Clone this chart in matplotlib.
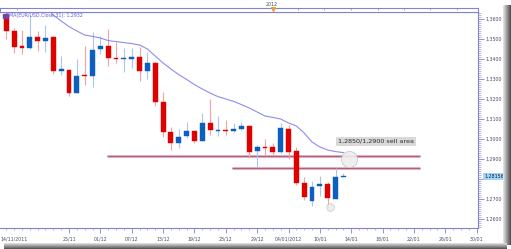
import matplotlib.pyplot as plt
import matplotlib.transforms as mtransforms
from matplotlib.patches import Rectangle
from matplotlib.ticker import MultipleLocator

W, H = 511, 249

# daily EUR/USD candles, index 0 = 14/11/2011
bar_index = list(range(1, 45))
opens = [1.3620, 1.3542, 1.3464, 1.3455, 1.3512, 1.3490, 1.3508, 1.3340, 1.3345, 1.3232,
         1.3320, 1.3315, 1.3448, 1.3465, 1.3407, 1.3400, 1.3402, 1.3412, 1.3342, 1.3382,
         1.3187, 1.3033, 1.2978, 1.3015, 1.3038, 1.2992, 1.3082, 1.3042, 1.3046, 1.3040,
         1.3050, 1.3067, 1.2938, 1.2962, 1.2962, 1.2935, 1.3052, 1.2940, 1.2782, 1.2690,
         1.2766, 1.2774, 1.2700, 1.2812]
highs = [1.3650, 1.3555, 1.3544, 1.3620, 1.3542, 1.3572, 1.3513, 1.3414, 1.3350, 1.3400,
         1.3464, 1.3534, 1.3513, 1.3552, 1.3487, 1.3457, 1.3453, 1.3462, 1.3434, 1.3385,
         1.3237, 1.3062, 1.3048, 1.3085, 1.3042, 1.3132, 1.3199, 1.3117, 1.3095, 1.3082,
         1.3083, 1.3070, 1.2970, 1.3000, 1.2982, 1.3082, 1.3072, 1.2958, 1.2812, 1.2790,
         1.2815, 1.2783, 1.2857, 1.2830]
lows = [1.3500, 1.3430, 1.3427, 1.3450, 1.3442, 1.3434, 1.3325, 1.3322, 1.3214, 1.3230,
        1.3268, 1.3260, 1.3425, 1.3367, 1.3378, 1.3337, 1.3353, 1.3290, 1.3300, 1.3165,
        1.3008, 1.2945, 1.2957, 1.3003, 1.2982, 1.2990, 1.3018, 1.3017, 1.3018, 1.3034,
        1.3047, 1.2912, 1.2862, 1.2920, 1.2920, 1.2932, 1.2900, 1.2770, 1.2695, 1.2667,
        1.2717, 1.2653, 1.2700, 1.2808]
closes = [1.3538, 1.3462, 1.3456, 1.3512, 1.3489, 1.3505, 1.3342, 1.3349, 1.3232, 1.3317,
          1.3313, 1.3447, 1.3463, 1.3405, 1.3400, 1.3404, 1.3412, 1.3342, 1.3382, 1.3187,
          1.3035, 1.2978, 1.3012, 1.3038, 1.2990, 1.3082, 1.3043, 1.3047, 1.3042, 1.3052,
          1.3067, 1.2937, 1.2960, 1.2957, 1.2935, 1.3053, 1.2937, 1.2782, 1.2712, 1.2762,
          1.2775, 1.2703, 1.2808, 1.28156]

# SMA(31)
sma_index = list(range(5, 45))
sma_values = [1.3700, 1.3660, 1.3620, 1.3590, 1.3562, 1.3540, 1.3520, 1.3513, 1.3505, 1.3492,
              1.3487, 1.3482, 1.3477, 1.3470, 1.3450, 1.3415, 1.3380, 1.3350, 1.3322, 1.3298,
              1.3272, 1.3250, 1.3230, 1.3212, 1.3200, 1.3188, 1.3172, 1.3155, 1.3135, 1.3115,
              1.3108, 1.3100, 1.3080, 1.3065, 1.3030, 1.2985, 1.2960, 1.2945, 1.2937, 1.2932]

date_ticks = [9, 13, 17, 21, 25, 29, 33, 37, 41, 45, 49, 53, 57, 61]
date_labels = ["25/11", "01/12", "07/12", "13/12", "19/12", "23/12", "29/12", "04/01/2012",
               "10/01", "14/01", "18/01", "22/01", "26/01", "30/01"]
first_label = "14/11/2011"

price_ticks = [1.26, 1.27, 1.28, 1.29, 1.30, 1.31, 1.32, 1.33, 1.34, 1.35, 1.36]
last_price = 1.28156
sell_levels = [1.2916, 1.2855]
sell_starts = [13.85, 29.8]
sell_end = 53.8
sell_text = "1,2850/1,2900 sell area"

FRAME = "#8484cc"
LABEL = "#4a4a70"
RED, RED_WICK = "#e00000", "#f3a3a3"
BLUE, BLUE_WICK = "#0b5fc0", "#a9c6ee"


def fx(px):
    return px / W


def fy(py):
    return 1 - py / H


def price_label(v):
    return f"{v:.4f}".replace(".", ",")


fig = plt.figure(figsize=(W / 100, H / 100), dpi=100)
fig.patch.set_facecolor("white")

ax = fig.add_axes([0, fy(228), fx(478), (228 - 12) / H])
ax.set_xlim(0.2, 61.17)
ax.set_ylim(1.2555, 1.3635)

for i, o, h, l, c in zip(bar_index, opens, highs, lows, closes):
    up = c >= o
    ax.vlines(i, l, h, color=BLUE_WICK if up else RED_WICK, lw=0.8, zorder=2)
    ax.bar(i, max(abs(c - o), 0.0003), bottom=min(o, c), width=0.62,
           color=BLUE if up else RED, edgecolor=BLUE if up else RED, lw=0.3, zorder=3)

ax.plot(sma_index, sma_values, color="#8c8cf2", lw=0.8, zorder=4)

for level, start in zip(sell_levels, sell_starts):
    ax.hlines(level, start, sell_end, color="#e6bccb", lw=2.2, zorder=1)
    ax.hlines(level, start, sell_end, color="#b0607c", lw=0.9, zorder=1)

ax.text(48.2, 1.29875, sell_text, fontsize=4.6, color="#2a2a2a", ha="center", va="center",
        bbox=dict(boxstyle="square,pad=0.35", fc="#d9d9d9", ec="none"), zorder=6)
ax.scatter([44.72], [1.2900], s=135, facecolor="#eeeeee", edgecolor="#c4c4c4", lw=0.6,
           alpha=0.9, zorder=5)
ax.scatter([42.3], [1.2660], s=30, facecolor="#eeeeee", edgecolor="#c4c4c4", lw=0.5,
           alpha=0.9, zorder=5)

# legend line
ax.add_patch(Rectangle((0.006, 0.972), 0.01, 0.02, transform=ax.transAxes,
                       color="#7a3fa0", zorder=7))
ax.text(0.012, 0.982, "SMA(EUR/USD.Close,31): 1,2932", transform=ax.transAxes,
        fontsize=3.4, color="#5f5fd6", ha="left", va="center", zorder=8)

# axes styling
for side in ["top", "right", "bottom"]:
    ax.spines[side].set_color(FRAME)
    ax.spines[side].set_linewidth(0.8)
ax.spines["left"].set_visible(False)

ax.yaxis.tick_right()
ax.set_yticks(price_ticks)
ax.set_yticklabels([price_label(v) if abs(v - 1.28) > 1e-9 else "" for v in price_ticks])
ax.yaxis.set_minor_locator(MultipleLocator(0.001))
ax.tick_params(axis="y", which="major", length=4, width=0.6, color=FRAME, pad=1.2,
               labelsize=3.4, labelcolor=LABEL)
ax.tick_params(axis="y", which="minor", length=1.8, width=0.4, color=FRAME)

ax.set_xticks(date_ticks)
ax.set_xticklabels(date_labels)
ax.xaxis.set_minor_locator(MultipleLocator(1))
ax.tick_params(axis="x", which="major", length=3.5, width=0.6, color=FRAME, pad=2.5,
               labelsize=3.4, labelcolor=LABEL)
ax.tick_params(axis="x", which="minor", length=1.5, width=0.4, color=FRAME)
ax.text(0.0, -0.040, first_label, transform=ax.transAxes, fontsize=3.4, color=LABEL,
        ha="left", va="top")

trans = mtransforms.blended_transform_factory(ax.transAxes, ax.transData)
ax.text(1.013, last_price - 0.0002, "1,28156", transform=trans, fontsize=3.4,
        color="#1a1a40", ha="left", va="center",
        bbox=dict(boxstyle="square,pad=0.25", fc="#9fd8f7", ec="none"), clip_on=False)

# top time strip
ax_top = fig.add_axes([0, fy(12.3), fx(478), 4 / H])
ax_top.set_xlim(ax.get_xlim())
ax_top.set_ylim(0, 1)
ax_top.set_xticks([])
ax_top.set_yticks([])
for side in ax_top.spines.values():
    side.set_color(FRAME)
    side.set_linewidth(0.8)
for m in [2.37, 38.2, 41.5, 45.0, 48.4, 51.7, 55.1, 58.5]:
    ax_top.vlines(m, 0.5, 1, color=FRAME, lw=0.5)
ax_top.scatter([35], [0.75], marker="v", s=7, color="#f0a030", zorder=5, clip_on=False)
ax_top.vlines(35, 0, 1, color="#f0a030", lw=0.6)
fig.text(fx(272), fy(4), "2012", fontsize=3.4, color=LABEL, ha="center", va="center")

# drop shadow along the right and bottom edges
for k in range(8):
    shade = str(0.88 - 0.08 * k)
    fig.add_artist(Rectangle((fx(503 + k), fy(245)), fx(1), (245 - 5) / H,
                             transform=fig.transFigure, color=shade, lw=0))
for k in range(6):
    shade = str(0.85 - 0.1 * k)
    fig.add_artist(Rectangle((fx(4), fy(243 + k + 1)), fx(503), 1 / H,
                             transform=fig.transFigure, color=shade, lw=0))

fig.savefig("out.png", dpi=100)
